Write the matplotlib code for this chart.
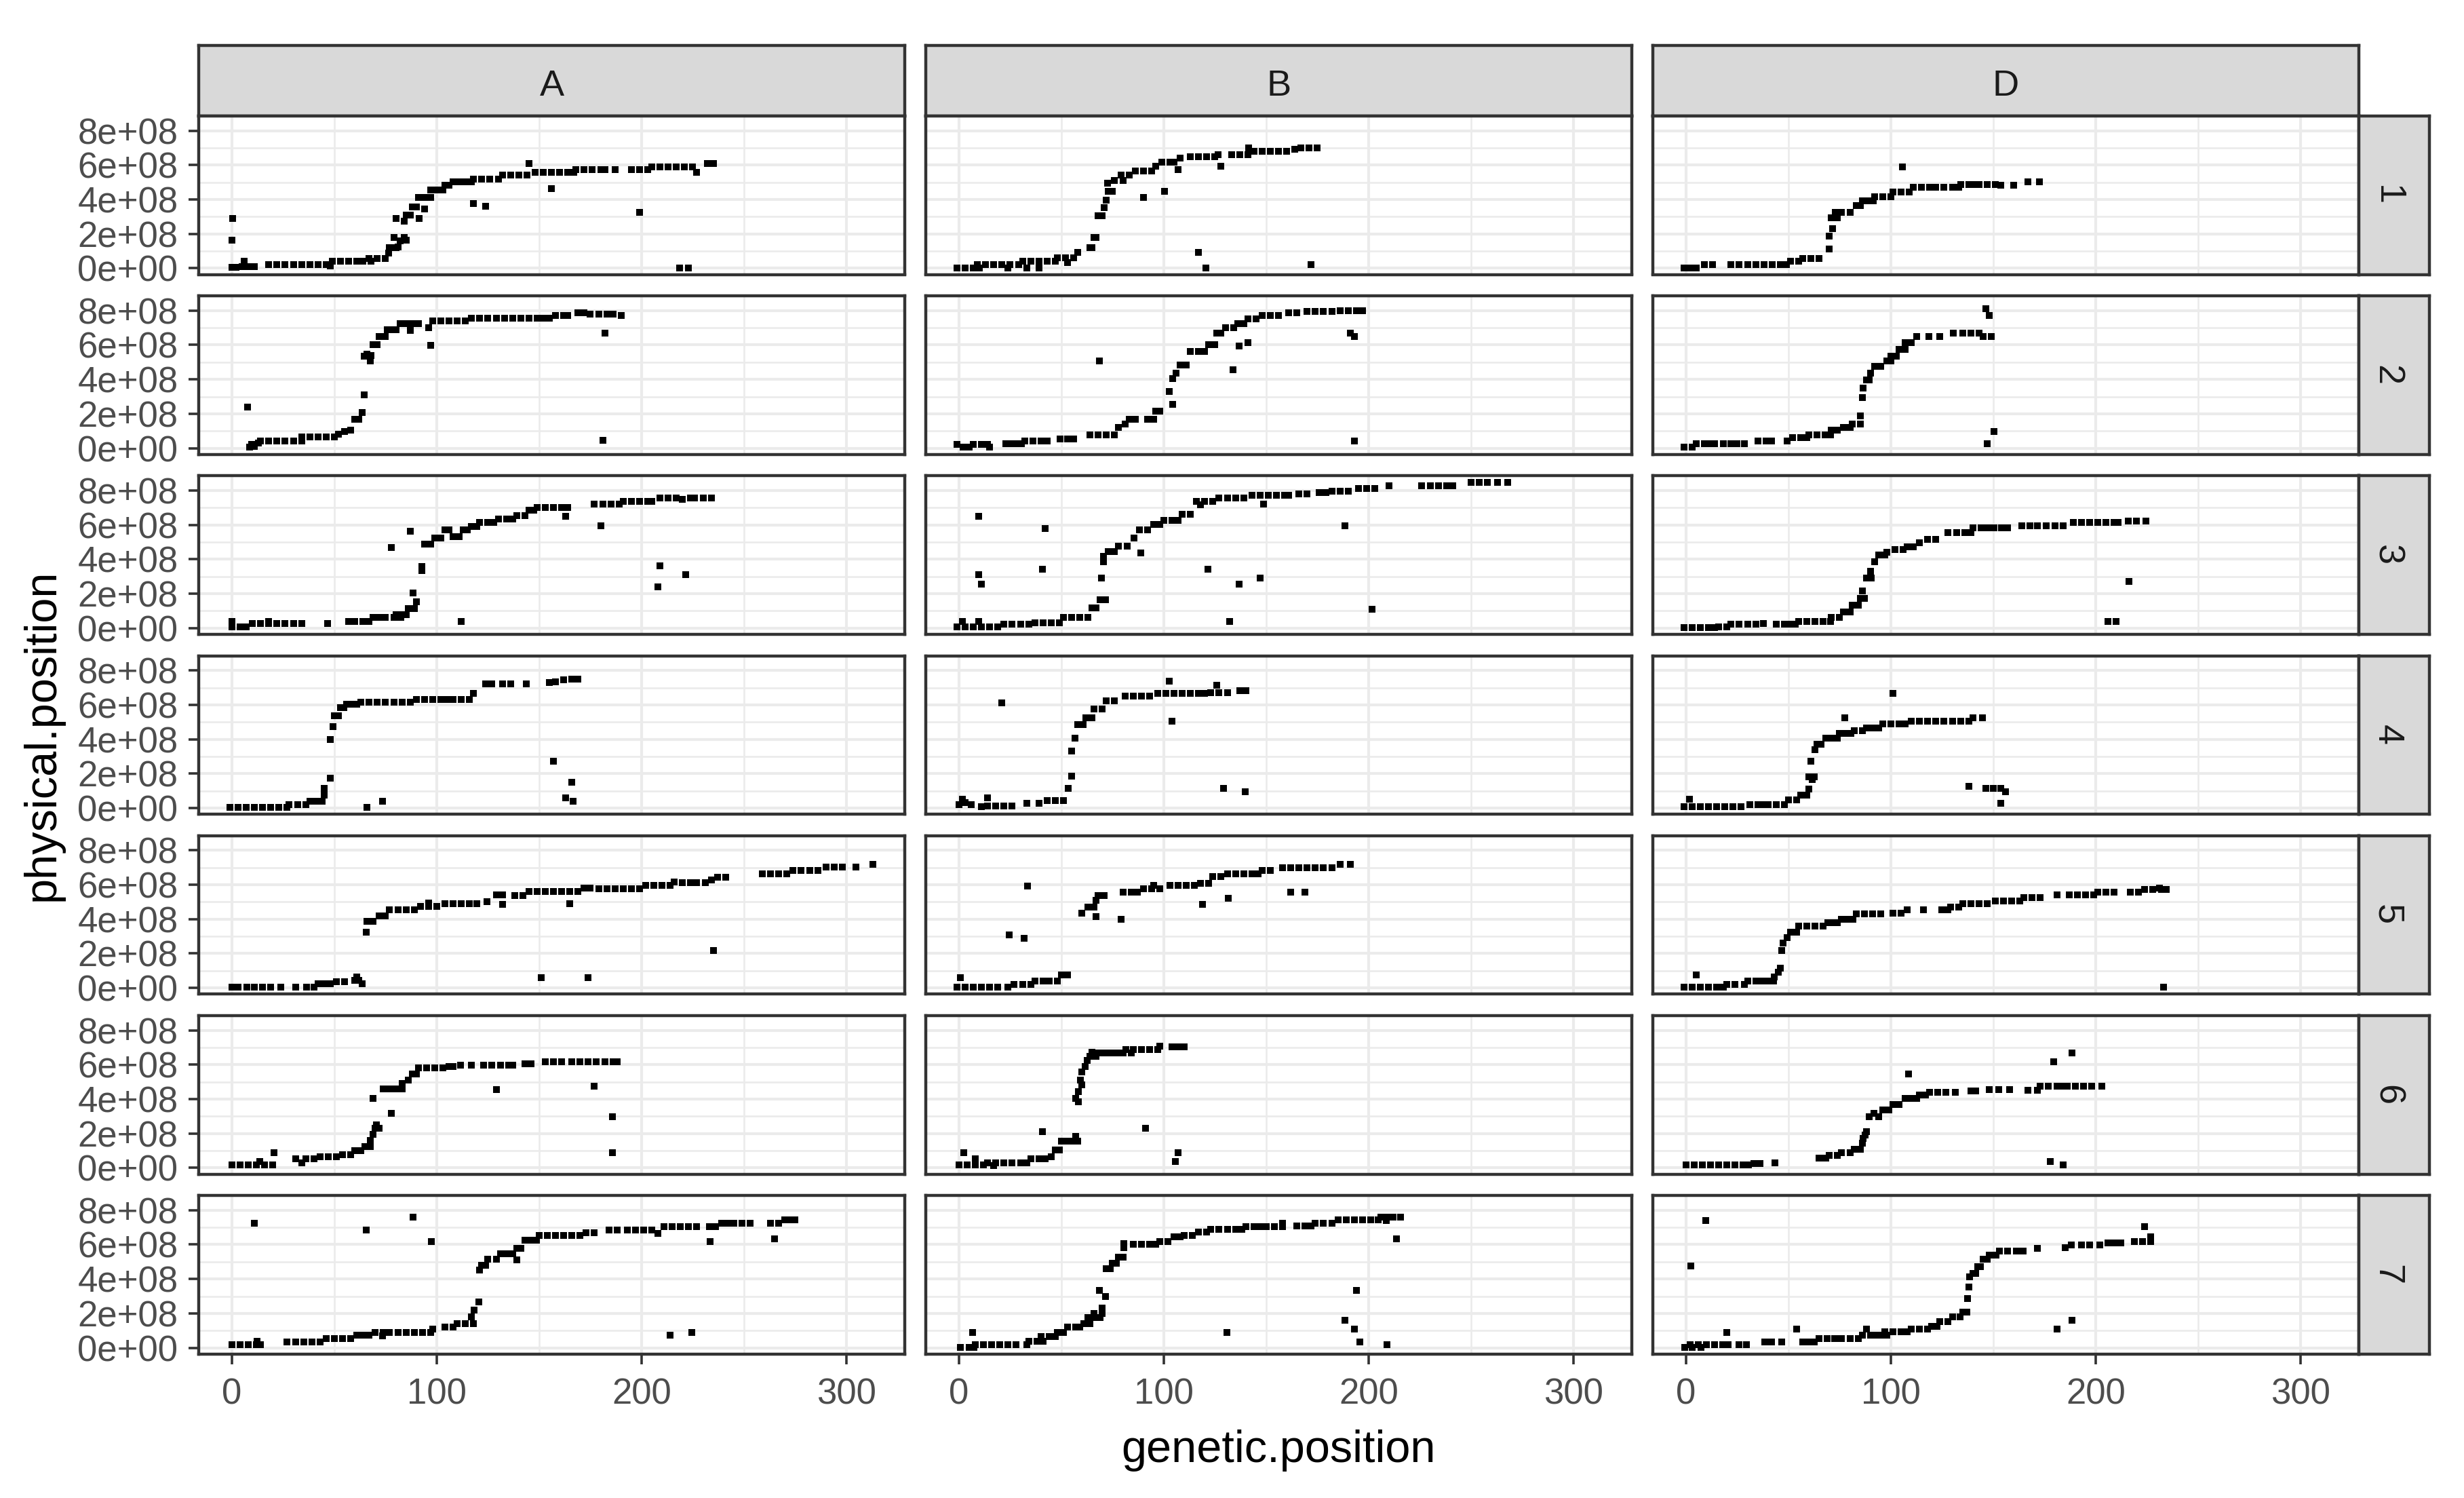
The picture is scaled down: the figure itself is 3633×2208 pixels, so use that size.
import numpy as np
from matplotlib import pyplot as plt

plt.rcParams['font.family'] = ['Liberation Sans', 'DejaVu Sans']

genomes = ['A', 'B', 'D']
chroms = ['1', '2', '3', '4', '5', '6', '7']
xticks = [0, 100, 200, 300]
yticks = [0, 2e8, 4e8, 6e8, 8e8]
ytick_labels = ['0e+00', '2e+08', '4e+08', '6e+08', '8e+08']

# (genetic.position in cM, physical.position in Mb)
A1 = [(0,164),(0.5,288),(0,5),(2,5),(5,8),(6,40),(8,8),(11,8),(18,21),(22,21),(26,21),(30,21),(34,21),
      (38,21),(42,21),(46,20),(48,12),(49,40),(53,40),(57,40),(61,40),(64,40),(68,40),(67,55),(71,55),
      (75,55),(76.5,87),(77,119),(80,119),(81,125),(79,180),(82,161),(84,180),(85,165),(80,288),(84,272),
      (85,311),(87,311),(88,356),(90,356),(91.5,288),(94,343),(91,412),(94,412),(97,412),(97,456),(100,456),
      (103,456),(104,483),(106,483),(108,504),(111,504),(114,504),(117,504),(118,520),(122,520),(126,520),
      (130,520),(118,377),(124,359),(132,541),(136,541),(140,541),(144,541),(145,609),(148,557),(152,557),
      (156,557),(160,557),(164,557),(167,557),(156,464),(168,573),(172,573),(176,573),(180,573),(182,573),
      (187,573),(195,573),(199,573),(203,573),(199,325),(205,588),(209,588),(213,588),(217,588),(221,588),
      (225,588),(227,557),(232,609),(235,609),(218.6,3),(223,3)]
A2 = [(7.8,240),(8.5,8),(9.6,21),(11,10),(13,30),(14,42),(18,42),(22,42),(26,42),(30,42),(34,42),(34,66),
      (38,66),(42,66),(46,66),(50,66),(52,80),(55,95),(58,105),(60,166),(62,166),(63.5,206),(64.6,309),
      (64.6,536),(66,545),(68,540),(67.5,509),(69,602),(71,602),(72,649),(75,649),(76,689),(78,689),(80,689),
      (82,726),(85,726),(88,726),(91,726),(87,686),(96,702),(97,596),(98,741),(102,741),(106,741),(110,741),
      (114,741),(117,757),(121,757),(125,757),(129,757),(133,757),(137,757),(141,757),(145,757),(149,757),
      (152,757),(155,757),(158,773),(162,773),(164,773),(169,789),(172,789),(175,778),(179,778),(183,778),
      (186,778),(182,668),(190,773),(181,45)]
A3 = [(0,40),(0,8),(4,8),(7,8),(10,26),(14,26),(18,40),(18,26),(22,26),(26,26),(30,26),(34,26),(46.6,26),
      (57,40),(60,40),(64,40),(67,40),(69,61),(72,61),(75,61),(79,61),(82.5,61),(80,79),(83,79),(85,79),
      (86,114),(89,114),(90,151),(88.6,204),(92.6,336),(92.6,358),(78,469),(87,562),(94,490),(97,490),
      (99,522),(102,522),(104,570),(106,570),(108,530),(111,530),(113,570),(115,570),(117,591),(119.5,591),
      (121,615),(125,615),(128,615),(130,636),(134,636),(137,636),(139,654),(143,654),(145,684),(147.5,684),
      (149,702),(153,702),(157,702),(161,702),(164,702),(163,649),(177,721),(181,721),(185,721),(189,721),
      (180,596),(191,736),(195,736),(199,736),(203,736),(205,736),(209,755),(213,755),(217,755),(220,748),
      (224,755),(226,755),(230,755),(234,755),(209,363),(221.5,310),(208,238),(112,40)]
A4 = [(-1,5),(3,5),(7,5),(11,5),(15,5),(19,5),(23,5),(27,5),(28,21),(32,21),(36,21),(38,40),(41,40),(44,40),
      (45,74),(45,114),(48,175),(48,397),(49.5,472),(50,538),(52,538),(53,583),(54.5,583),(56,604),(59,604),
      (61,604),(63,615),(67,615),(71,615),(75,615),(79,615),(83,615),(87,615),(90,630),(94,630),(98,630),
      (102,630),(105,630),(108,630),(112,630),(116,630),(118,665),(124,720),(127,720),(132,720),(136,720),
      (143.7,720),(155,731),(158,735),(162,745),(166,750),(169,750),(66,5),(73.5,40),(157,273),(166,148),
      (163,61),(166.5,40)]
A5 = [(0,6),(3,6),(7.4,6),(11,6),(15,6),(19,6),(24,6),(31,6),(36.5,6),(40,6),(42,26),(45,26),(48,26),(51,35),
      (55,35),(60,45),(61,65),(62,45),(63.5,26),(65.7,325),(66,386),(69,386),(72,419),(75,419),(77,453),
      (81,453),(85,453),(89,453),(92,474),(96,474),(100,474),(96,492),(104,488),(108,488),(112,488),(116,488),
      (119.5,488),(124.4,502),(129,541),(132,541),(132,484),(138,537),(142,537),(145,561),(149,561),(153,561),
      (157,561),(161,561),(165,561),(169,561),(172,579),(175,579),(179,577),(183,577),(187,577),(191,577),
      (195,577),(199,577),(202,596),(206,596),(210,596),(214,596),(216,616),(220,612),(224,612),(227,612),
      (231,612),(234,626),(237,642),(241,642),(259,665),(263,665),(267,665),(271,665),(274,685),(278,685),
      (282,685),(286,685),(290,701),(294,701),(298,701),(304.5,701),(313,718),(165,488),(235,218),(151,59),
      (174,59)]
A6 = [(0,16),(4,16),(8,16),(12,16),(13.7,35),(16,16),(20,16),(20.4,88),(31,51),(34,31),(36,51),(40,51),(43,64),
      (47,64),(51,64),(54,78),(58,78),(60,99),(63,99),(65,123),(67.5,123),(67.5,161),(69,195),(70,230),
      (72,230),(70.6,249),(69,405),(78,317),(74,459),(77,459),(80,459),(83,459),(83,492),(86,512),(88,545),
      (90,545),(91,580),(95,580),(99,580),(103,580),(106,589),(108,589),(111.7,599),(117,599),(123,599),
      (127,599),(131,599),(135,599),(137,599),(143,605),(146,605),(153,615),(157,615),(161,615),(166,615),
      (170,615),(174,615),(178,615),(182,615),(186,615),(188,615),(129,457),(176.7,473),(185.7,298),(185.7,88)]
A7 = [(0,19),(4,19),(8,19),(12,19),(12.3,39),(14,19),(27,35),(31,35),(35,35),(39,35),(43,35),(46,54),(50,54),
      (54,54),(58,54),(61,74),(64,74),(67,74),(70,89),(73.5,70),(74,89),(77,89),(81,89),(85,89),(89,89),
      (93,89),(97,89),(98,108),(104,122),(108,122),(110,141),(114,141),(118,141),(117,180),(118.4,219),
      (120.6,267),(121,452),(122,481),(124,481),(125,514),(129,514),(131,548),(134,548),(137,548),(139,577),
      (141,577),(143,626),(146,626),(148.7,626),(150,655),(154,655),(158,655),(162,655),(166,655),(170,655),
      (173,669),(177,669),(184,684),(188,684),(193,684),(197,684),(201,684),(205,684),(208,665),(211,703),
      (215,703),(219,703),(223,703),(227,703),(233,703),(236,703),(239,723),(242,723),(245,723),(249,723),
      (253,723),(263,723),(267,723),(270,742),(273,742),(275,742),(10.8,723),(65.7,684),(88.6,758),
      (97.5,616),(139,510),(233.4,616),(265,632),(214,74),(224.4,89)]

B1 = [(-1,3),(3,3),(7,3),(10,3),(9,21),(13,21),(17,21),(21,21),(25,21),(29,21),(24,3),(33,3),(39,3),(31,42),
      (35,42),(39,42),(43,42),(47,42),(48,61),(52,61),(56,61),(53,34),(58,92),(64,119),(65,119),(66,179),
      (67,179),(68,306),(70,306),(71,351),(72,396),(73,449),(75,449),(72.7,496),(76,509),(80,509),(79,541),
      (83,541),(86,567),(90,567),(94,567),(96,594),(99,615),(103,615),(105,615),(108,641),(107,573),(113,649),
      (117,649),(121,649),(125,649),(126.6,662),(127.7,594),(133,662),(137,662),(141,662),(141.5,699),
      (144,681),(148,681),(152,681),(156,681),(160,681),(164,690),(167,699),(171,699),(175,699),(90,412),
      (100.4,449),(117,92),(120.4,3),(172,21)]
B2 = [(-1,21),(2,8),(5,8),(7,21),(11,21),(14,21),(15,8),(23,26),(26,26),(28,26),(30.6,26),(32,42),(36,42),
      (40,42),(43,42),(49.4,53),(53,53),(56,53),(64,79),(68,79),(72,79),(76,79),(78,119),(81,140),(83,166),
      (86,166),(92,166),(95,166),(96,214),(98,214),(104.4,256),(102.7,330),(104.4,404),(106,435),(108,483),
      (111,483),(113,562),(117,562),(120,562),(122,602),(125,602),(126,668),(128,668),(130,702),(134,702),
      (136,726),(139,726),(141,752),(145,752),(148,773),(152,773),(156,773),(161,789),(165,789),(170,794),
      (174,794),(178,794),(182,794),(186,800),(190,800),(194,800),(197,800),(68.7,507),(133.7,454),
      (136.8,594),(141,612),(191,668),(193,649),(193,42)]
B3 = [(-1,8),(3,8),(7,8),(11,8),(15,8),(19,8),(1.8,40),(9.5,40),(22,21),(26,21),(30,21),(34,21),(37,32),
      (41,32),(45,32),(49,32),(51,61),(55,61),(59,61),(63,61),(65,119),(67,119),(69,164),(71.6,164),
      (69.4,291),(70.5,384),(70.5,416),(73,445),(76,445),(78,477),(82,477),(85.4,522),(88,570),(92,570),
      (95,604),(98,604),(100,628),(104,628),(107,628),(109,662),(113,662),(116,736),(118,715),(120,736),
      (124,736),(127,755),(131,755),(135,755),(139,755),(143,774),(147,774),(151,774),(155,774),(159,774),
      (161,774),(166,781),(170,781),(176,787),(179,787),(182,795),(186,795),(190,795),(195,813),(199,813),
      (203,813),(210,826),(226,826),(230,826),(234,826),(238,826),(241,826),(250,847),(254,847),(258,847),
      (263,847),(268,847),(9.5,649),(42,577),(9.5,310),(11,257),(40.6,344),(88.7,437),(121.7,344),
      (136.8,257),(147,291),(148.6,721),(188.5,596),(201.8,111),(132,40)]
B4 = [(0,20),(1.8,53),(3,30),(6,20),(11,8),(14,13),(18,13),(22,13),(26,13),(14,61),(33,26),(39,26),(43,42),
      (47,42),(51,42),(53.4,114),(55,185),(55,331),(56.5,405),(58,485),(60.5,485),(62,524),(65,524),(66,577),
      (70,577),(72,622),(76,622),(81,649),(85,649),(89,649),(93,649),(97,665),(101,665),(105,665),(109,665),
      (113,665),(117,665),(120,665),(123,670),(127,670),(131,670),(126,715),(137,683),(140,683),(21,612),
      (102.7,736),(104,506),(129,114),(139.7,95)]
B5 = [(-1,6),(3,6),(7,6),(11,6),(15,6),(19,6),(24,6),(0.7,59),(27,22),(31,22),(35,22),(37,39),(41,39),(44,39),
      (48,39),(50,75),(53,75),(60,433),(63,469),(66,469),(67,508),(68,537),(71,537),(80,557),(84,557),
      (87,557),(90,577),(94,577),(98,577),(95,596),(103,596),(107,596),(111,596),(115,596),(118,610),
      (122,610),(124,646),(128,646),(131,665),(135,665),(139,665),(143,665),(146,665),(148,685),(152,685),
      (158,699),(162,699),(166,699),(170,699),(174,699),(178,699),(182,699),(186,718),(191,718),(33.5,593),
      (24.4,307),(31.7,289),(67,415),(79,398),(119,486),(131.5,522),(162,557),(169,557)]
B6 = [(0,16),(4,16),(8,16),(12,16),(2.2,88),(8,51),(14,31),(17,12),(18,31),(22,31),(26,31),(30,31),(33,31),
      (35,51),(39,51),(42,51),(45,64),(47,103),(49,103),(50,156),(53,156),(56,156),(58,156),(57,181),(57,405),
      (58.3,385),(58.3,444),(59.4,512),(60,482),(60,556),(61.6,589),(62.7,623),(64,648),(67,648),(65,673),
      (68,667),(71,667),(74,667),(77,667),(80,667),(84,667),(81.6,687),(85,687),(89,687),(93,687),(97,687),
      (98,706),(104,702),(107,702),(110,702),(40.6,210),(91,230),(107,88),(105.5,35)]
B7 = [(0.7,2),(5,2),(7.3,2),(8,19),(12,19),(16,19),(20,19),(24,19),(28,19),(33,19),(6.6,89),(34,39),(38,39),
      (41,39),(40,64),(44,64),(47,64),(48,89),(51,89),(53,122),(57,122),(59,122),(61,141),(64,141),(63,174),
      (66,174),(69,174),(66,200),(70,200),(70,232),(68.7,335),(71.6,300),(72,461),(74,461),(75,490),(77,490),
      (78,525),(80,525),(80.5,583),(80.5,607),(85,603),(89,603),(93,603),(96,603),(98,616),(102,616),
      (105,645),(108,645),(110,655),(114,655),(117,674),(121,674),(123,688),(127,688),(131,688),(135,688),
      (138,688),(140,703),(144,703),(147,703),(150,703),(154,703),(158,703),(158,723),(165,707),(169,707),
      (172,707),(174,723),(178,723),(182,723),(185,742),(189,742),(193,742),(197,742),(201,742),(204.7,742),
      (206,758),(209,758),(212,758),(215.7,758),(208.6,738),(130.8,89),(194,335),(188.5,161),(193,108),
      (195.8,35),(209,19),(213.5,632)]

D1 = [(-1,3),(2,3),(5,3),(9,21),(13,21),(22,21),(26,21),(30,21),(34,21),(38,21),(42,21),(46,21),(49,21),
      (51,40),(55,40),(57,55),(61,55),(65,55),(70,113),(70,187),(71.6,232),(71,293),(74,293),(73,325),
      (76,325),(80,325),(83,364),(85,364),(86,390),(89,390),(91.5,390),(92,417),(96,417),(100,417),(101,443),
      (105,443),(109,443),(111,470),(115,470),(119,470),(122,470),(126,470),(130,470),(133,470),(134,488),
      (138,488),(141,488),(143,488),(147,488),(151,488),(153.7,483),(160,483),(167,501),(172.5,501),
      (105.5,588)]
D2 = [(-1,8),(3,8),(5,26),(9,26),(11.7,26),(14,26),(18.4,26),(22,26),(25,26),(28.4,26),(35,42),(39,42),
      (41.7,42),(49.4,42),(52,61),(56,61),(59,61),(60,79),(64,79),(68,79),(70.5,79),(71,105),(74,105),
      (77,121),(80,121),(81,140),(85,140),(85,187),(86,293),(86.5,351),(88,396),(89.4,396),(90,438),(92,475),
      (95,475),(98,509),(100,509),(100,536),(102.7,536),(104,575),(107,575),(107,615),(110,615),(112.6,649),
      (118.6,649),(123.7,649),(130.4,668),(135,668),(139,668),(143,668),(145,649),(149,649),(146.3,810),
      (148,773),(150.3,95),(147,26)]
D3 = [(-1,5),(3,5),(7,5),(11,5),(14,5),(16,8),(20,8),(22,21),(26,21),(30,21),(34,21),(37.7,26),(44,21),
      (48,21),(50.5,21),(53.4,21),(55,40),(59,40),(63,40),(67,40),(70.5,40),(71,61),(75,61),(77,93),(80,93),
      (81,132),(84,132),(85,172),(87,172),(86,217),(88.2,291),(90.5,291),(90,331),(92,384),(94,424),(97,424),
      (98,442),(102,456),(106,456),(108,472),(111,472),(114,495),(118,517),(122,517),(128,556),(132,556),
      (136,556),(139,556),(140,583),(144,583),(147,583),(150.3,583),(154,583),(157,583),(164,596),(168,596),
      (171.4,596),(176,596),(180,596),(184,596),(189,615),(193,615),(197,615),(201,615),(205,615),(209,615),
      (211,615),(216,623),(220,623),(224.6,623),(216.4,273),(206,40),(210,40)]
D4 = [(-1,8),(1.8,53),(3,8),(7,8),(11,8),(15,8),(19,8),(23,8),(27,8),(31,21),(35,21),(37,21),(40,21),(44,21),
      (48,21),(50,48),(54,48),(56,74),(59,74),(60,109),(60,180),(61.6,167),(62.7,180),(61,273),(63,339),
      (64,371),(66,371),(68.3,405),(71,405),(74,405),(75,432),(78,432),(80.5,432),(82,450),(86,450),(88,466),
      (91,466),(94,466),(96,490),(100,490),(104,490),(107,490),(110,506),(114,506),(118,506),(122,506),
      (126,506),(130,506),(134,506),(138,506),(140,525),(144.8,525),(77.6,525),(101,665),(138,127),
      (146.3,114),(150,114),(153.7,114),(156,95),(153.7,26)]
D5 = [(-1,6),(3,6),(7,6),(11,6),(15,6),(5,75),(18.4,6),(20,22),(24,22),(28.4,22),(30,41),(34,41),(37.3,41),
      (40,41),(42.8,41),(43,65),(45,90),(46,114),(46.6,218),(47.3,262),(49.4,291),(51,325),(54,325),(55,360),
      (59,360),(63,360),(67,360),(69.3,380),(72,380),(74,380),(76,400),(79,400),(81.6,400),(83,429),(87,429),
      (91,429),(95,429),(101,435),(105,435),(108,453),(116,453),(125,453),(128,453),(129,472),(133,472),
      (135,488),(139,488),(143,488),(147,488),(151,504),(155,504),(159,504),(163,504),(165,524),(169,524),
      (173,524),(181,541),(187,541),(191,541),(195,541),(199,541),(201,557),(205,557),(209,557),(217,557),
      (221,557),(224,571),(228,571),(232,571),(234.6,571),(231,581),(233,6)]
D6 = [(0,16),(4,16),(8,16),(12,16),(16,16),(20,16),(24,16),(28,16),(30.6,16),(33,25),(36,25),(43.5,31),
      (65,58),(68.3,58),(70,74),(74,74),(76,89),(80,89),(82,109),(85,109),(86,142),(86.5,171),(87.5,190),
      (88.2,210),(89.4,298),(91.6,317),(94,298),(96,337),(99,337),(101,370),(104,370),(107,405),(110,405),
      (112.6,405),(114,424),(117,424),(119,440),(123,440),(127,440),(131.5,440),(139,447),(141.5,447),
      (148,457),(152.6,457),(158,457),(167,453),(171.4,453),(173,473),(177,473),(181,473),(183.6,473),
      (186,473),(190,473),(194,473),(198,473),(203,473),(108.6,545),(179.6,615),(188.5,667),(178,35),(184,16)]
D7 = [(-0.5,2),(3,2),(7.3,2),(2,19),(6,19),(10,19),(14,19),(18,19),(20.6,19),(26,19),(29.5,19),(38.4,35),
      (41.7,35),(46.6,35),(57,35),(60,35),(62.7,35),(65,54),(69,54),(72.7,54),(76,54),(80,54),(84,54),
      (86,74),(88.2,107),(90,74),(91.6,74),(95,74),(98,74),(97,93),(101,93),(105,93),(108,93),(110,107),
      (114,107),(118,107),(120,126),(122.6,126),(124,151),(128,151),(130,180),(133.7,180),(135,209),(137,209),
      (137.5,287),(138,355),(138.3,413),(140,432),(141.5,432),(142.5,471),(143.7,471),(145,514),(147,514),
      (148,539),(151.4,539),(153,562),(157,562),(161.4,562),(164.7,562),(171.4,577),(185,583),(188,597),
      (193,597),(197,597),(202,597),(206,610),(209,610),(212.4,610),(219,616),(223,616),(226.8,616),
      (226.8,645),(224,703),(9.5,738),(2.2,475),(20,89),(54,107),(181,107),(188.5,161)]

panels = {'A': [A1, A2, A3, A4, A5, A6, A7],
          'B': [B1, B2, B3, B4, B5, B6, B7],
          'D': [D1, D2, D3, D4, D5, D6, D7]}

W, H = 3633, 2208
fig = plt.figure(figsize=(W / 100, H / 100), dpi=100)


def box(x, y, w, h):
    # pixel box (from top-left) -> figure fraction
    return [x / W, 1 - (y + h) / H, w / W, h / H]


left0, colstep, pw = 293, 1072, 1041
top0, rowstep, ph = 171, 265.2, 233.5
strip = 104
edge = '#333333'

for j, g in enumerate(genomes):
    x0 = left0 + j * colstep
    sax = fig.add_axes(box(x0, top0 - strip, pw, strip))
    sax.set_facecolor('#D9D9D9')
    sax.set_xticks([])
    sax.set_yticks([])
    for s in sax.spines.values():
        s.set_color(edge)
        s.set_linewidth(3.2)
    sax.text(0.5, 0.42, g, ha='center', va='center', fontsize=39, color='#1A1A1A', transform=sax.transAxes)

    for i, c in enumerate(chroms):
        y0 = top0 + i * rowstep
        ax = fig.add_axes(box(x0, y0, pw, ph))
        gx, py = zip(*panels[g][i])
        ax.scatter(gx, np.array(py) * 1e6, s=46, c='black', marker='s', linewidths=0, zorder=2)
        ax.set_xlim(-16.2, 328.5)
        ax.set_ylim(-36e6, 885e6)
        ax.set_xticks(xticks)
        ax.set_xticks([50, 150, 250], minor=True)
        ax.set_yticks(yticks)
        ax.set_yticks([1e8, 3e8, 5e8, 7e8], minor=True)
        ax.set_yticklabels(ytick_labels)
        ax.grid(which='major', color='#EBEBEB', lw=3.0)
        ax.grid(which='minor', color='#EBEBEB', lw=1.9)
        ax.set_axisbelow(True)
        ax.tick_params(which='minor', length=0)
        ax.tick_params(which='major', length=11, width=2.6, color=edge, labelcolor='#4D4D4D',
                       labelsize=38, pad=11)
        ax.tick_params(axis='x', pad=14)
        if j > 0:
            ax.tick_params(axis='y', length=0, labelleft=False)
        if i < len(chroms) - 1:
            ax.tick_params(axis='x', length=0, labelbottom=False)
        for s in ax.spines.values():
            s.set_color(edge)
            s.set_linewidth(3.2)
            s.set_zorder(4)

        if j == len(genomes) - 1:
            rax = fig.add_axes(box(x0 + pw, y0, strip, ph))
            rax.set_facecolor('#D9D9D9')
            rax.set_xticks([])
            rax.set_yticks([])
            for s in rax.spines.values():
                s.set_color(edge)
                s.set_linewidth(3.2)
            rax.text(0.40, 0.5, c, ha='center', va='center', rotation=-90, fontsize=39,
                     color='#1A1A1A', transform=rax.transAxes)

fig.text(1885 / W, 1 - 2138 / H, 'genetic.position', ha='center', va='center', fontsize=48)
fig.text(63 / W, 1 - 1083 / H, 'physical.position', ha='center', va='center', rotation=90, fontsize=48)

plt.savefig('out.png', dpi=100)
